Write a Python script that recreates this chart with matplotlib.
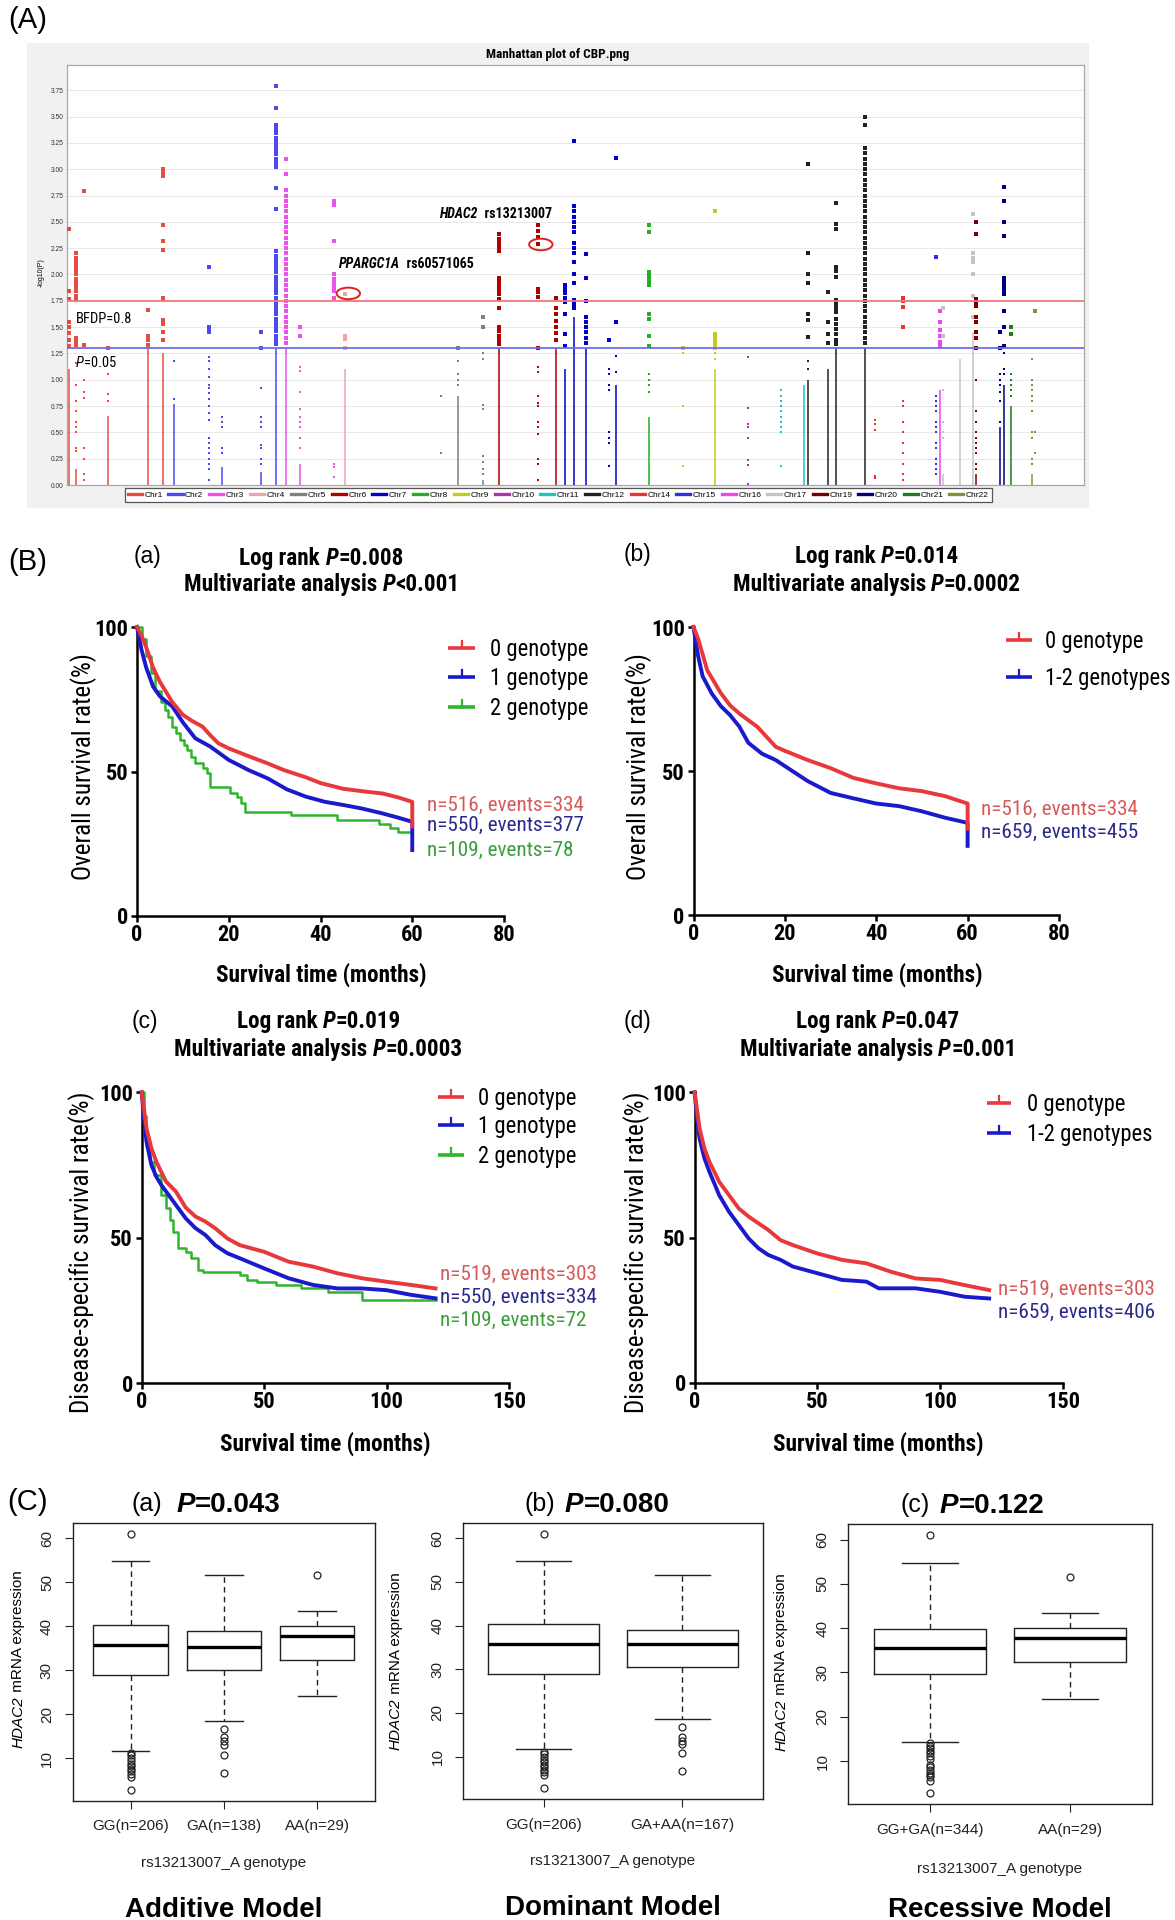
import numpy as np
import matplotlib
matplotlib.use('Agg')
import matplotlib.pyplot as plt
from matplotlib.lines import Line2D
from matplotlib.patches import Rectangle, Ellipse
import matplotlib.font_manager as fm

# ---------------- fonts ----------------
_names = {f.name for f in fm.fontManager.ttflist}
if 'Liberation Sans Narrow' in _names:
    NARROW = {'family': 'Liberation Sans Narrow'}; NS = 1.0
elif 'Roboto Condensed' in _names:
    NARROW = {'family': 'Roboto Condensed'}; NS = 0.95
elif any(f.name == 'DejaVu Sans' and 'condensed' in str(f.stretch) for f in fm.fontManager.ttflist):
    NARROW = {'family': 'DejaVu Sans', 'fontstretch': 'condensed'}; NS = 0.86
else:
    NARROW = {'family': 'Liberation Sans'}; NS = 0.84
SANS = {'family': 'Liberation Sans'}

# ================= DATA =================
# ---- (A) Manhattan plot ----
CHR_NAMES = ['Chr1', 'Chr2', 'Chr3', 'Chr4', 'Chr5', 'Chr6', 'Chr7', 'Chr8', 'Chr9', 'Chr10',
             'Chr11', 'Chr12', 'Chr14', 'Chr15', 'Chr16', 'Chr17', 'Chr19', 'Chr20', 'Chr21', 'Chr22']
CHR_COLORS = ['#e84a44', '#4a4aee', '#ee50ee', '#f2a3a8', '#808080', '#b00000', '#0000c8', '#22b022',
              '#c8c820', '#b030b0', '#22c2c2', '#222222', '#ee3030', '#3030e0', '#ee44ee', '#c4c4c4',
              '#7a0000', '#000080', '#1e7e1e', '#8e8e30']

col_pos = [2, 8.6, 16.9, 40.6, 79.8, 94.8,
           105.3, 140, 152.8, 190.8, 205.8,
           215.6, 228.8, 262.6,
           273.2,
           368, 384.2, 409,
           424.5, 463.6, 480.5,
           489.6, 498.6, 510.6, 533, 539.6,
           572,
           605.4, 636.8,
           669.3,
           702.3, 725,
           729, 748, 756.4, 784.2,
           794.3, 821.7,
           854.3,
           858.2,
           861, 877.8, 890.4,
           893.5,
           917, 921.7,
           928.7,
           948.4, 952.2]
col_chr = ['Chr1', 'Chr1', 'Chr1', 'Chr1', 'Chr1', 'Chr1',
           'Chr2', 'Chr2', 'Chr2', 'Chr2', 'Chr2',
           'Chr3', 'Chr3', 'Chr3',
           'Chr4',
           'Chr5', 'Chr5', 'Chr5',
           'Chr6', 'Chr6', 'Chr6',
           'Chr7', 'Chr7', 'Chr7', 'Chr7', 'Chr7',
           'Chr8',
           'Chr9', 'Chr9',
           'Chr10',
           'Chr11', 'Chr11',
           'Chr12', 'Chr12', 'Chr12', 'Chr12',
           'Chr14', 'Chr14',
           'Chr15',
           'Chr16',
           'Chr17', 'Chr17', 'Chr17',
           'Chr19',
           'Chr20', 'Chr20',
           'Chr21',
           'Chr22', 'Chr22']
col_dense = [1.1, 0.15, 0, 0.66, 1.3, 1.25,
             0.77, 0, 0.17, 0.12, 1.3,
             1.3, 0.2, 0,
             1.1,
             0, 0.85, 0.05,
             1.3, 0, 1.3,
             1.1, 1.6, 1.3, 0, 0.95,
             0.65,
             0, 1.1,
             0,
             0, 0.95,
             1.0, 1.1, 1.3, 1.3,
             0, 0,
             0,
             0.9,
             0.1, 1.2, 1.45,
             0.1,
             0.55, 0.95,
             0.75,
             0.1, 0]
col_pts = [
    [2.43, 1.84, 1.77, 1.55, 1.5, 1.44, 1.38, 1.32],
    [2.2, 2.16, 2.12, 2.08, 2.04, 2.0, 1.96, 1.92, 1.88, 1.84, 1.8, 1.76, 1.4, 1.37, 1.33,
     1.16, 0.95, 0.8, 0.7, 0.6, 0.55, 0.5, 0.35, 0.32],
    [2.79, 1.33, 1.0, 0.88, 0.83, 0.35, 0.25, 0.1, 0.05],
    [1.3, 1.05, 0.86, 0.8],
    [1.66, 1.42, 1.38, 1.33],
    [3.0, 2.97, 2.94, 2.47, 2.32, 2.23, 1.78, 1.76, 1.57, 1.53, 1.45, 1.38],
    [1.18, 0.82],
    [2.07, 1.5, 1.48, 1.45, 1.22, 1.18, 1.1, 1.03, 0.95, 0.92, 0.87, 0.82, 0.75, 0.68, 0.62,
     0.45, 0.4, 0.35, 0.3, 0.25, 0.2, 0.15, 0.05],
    [0.65, 0.6, 0.55, 0.35, 0.3],
    [1.45, 1.3, 0.92, 0.65, 0.6, 0.55, 0.38, 0.35, 0.25, 0.2],
    [3.79, 3.58, 3.42, 3.38, 3.34, 3.3, 3.26, 3.22, 3.18, 3.14, 3.1, 3.06, 3.02, 2.82, 2.62,
     2.22, 2.18, 2.14, 2.1, 2.06, 2.02, 1.98, 1.94, 1.9, 1.86, 1.82, 1.78, 1.74, 1.7, 1.66,
     1.62, 1.58, 1.54, 1.5, 1.46, 1.42, 1.38, 1.34],
    [3.1, 2.95, 2.8, 2.75, 2.7, 2.65, 2.6, 2.55, 2.5, 2.45, 2.4, 2.35, 2.3, 2.25, 2.2, 2.15,
     2.1, 2.05, 2.0, 1.95, 1.9, 1.85, 1.8, 1.75, 1.7, 1.65, 1.6, 1.55, 1.5, 1.45, 1.4, 1.35],
    [1.5, 1.42, 1.12, 1.08, 0.88, 0.72, 0.65, 0.6, 0.55, 0.45, 0.35],
    [2.7, 2.66, 2.32, 2.0, 1.96, 1.92, 1.88, 1.84, 1.78, 0.2, 0.17, 0.08],
    [1.81, 1.42, 1.39, 1.3],
    [0.85, 0.3],
    [1.3, 1.18, 1.05, 1.0, 0.95],
    [1.6, 1.5, 1.25, 1.2, 0.76, 0.72, 0.28, 0.22, 0.15, 0.1],
    [2.38, 2.34, 2.3, 2.26, 2.22, 1.97, 1.93, 1.89, 1.85, 1.81, 1.77, 1.68, 1.5, 1.46, 1.42,
     1.38, 1.34],
    [2.47, 2.41, 2.36, 2.29, 1.86, 1.83, 1.79, 1.3, 1.12, 1.07, 0.85, 0.78, 0.75, 0.6, 0.55,
     0.48, 0.25, 0.2, 0.05],
    [1.78, 1.68, 1.62, 1.56, 1.5, 1.44, 1.38],
    [1.9, 1.86, 1.82, 1.78, 1.74, 1.62, 1.43, 1.32],
    [3.27, 2.65, 2.6, 2.55, 2.5, 2.45, 2.4, 2.3, 2.25, 2.2, 2.12, 2.0, 1.92, 1.76, 1.72, 1.68],
    [2.19, 1.97, 1.75, 1.6, 1.55, 1.5, 1.45, 1.4, 1.35],
    [1.38, 1.1, 1.05, 0.95, 0.9, 0.5, 0.45, 0.4, 0.18],
    [3.11, 1.55, 1.23, 1.07],
    [2.47, 2.4, 2.02, 1.99, 1.96, 1.93, 1.9, 1.62, 1.58, 1.42, 1.32, 1.05, 1.0, 0.95, 0.88],
    [1.3, 1.25, 0.75, 0.18],
    [2.6, 1.43, 1.4, 1.37, 1.33, 1.3, 1.25, 1.2],
    [1.22, 0.73, 0.58, 0.55, 0.45, 0.24, 0.19, 0.01],
    [0.9, 0.85, 0.8, 0.75, 0.7, 0.65, 0.6, 0.55, 0.5, 0.18],
    [],
    [3.05, 2.2, 2.0, 1.92, 1.62, 1.57, 1.41, 1.18, 1.1],
    [1.83, 1.55, 1.43, 1.35],
    [2.68, 2.48, 2.43, 2.07, 2.03, 1.98, 1.76, 1.72, 1.68, 1.64, 1.58, 1.53, 1.48, 1.43, 1.38, 1.34],
    [3.5, 3.42, 3.2, 3.15, 3.1, 3.05, 3.0, 2.95, 2.9, 2.85, 2.8, 2.75, 2.7, 2.65, 2.6, 2.55,
     2.5, 2.45, 2.4, 2.35, 2.3, 2.25, 2.2, 2.15, 2.1, 2.05, 2.0, 1.95, 1.9, 1.85, 1.8, 1.75,
     1.7, 1.65, 1.6, 1.55, 1.5, 1.45, 1.4, 1.35],
    [0.62, 0.58, 0.52, 0.09, 0.07],
    [1.78, 1.75, 1.69, 1.5, 0.8, 0.75, 0.6, 0.5, 0.4, 0.3, 0.2, 0.1, 0.05],
    [2.17, 0.85, 0.8, 0.75, 0.7, 0.6, 0.55, 0.5, 0.4, 0.35, 0.25, 0.2, 0.15, 0.1],
    [1.65, 1.55, 1.47, 1.42, 1.36, 1.32],
    [1.68, 1.42, 0.9, 0.6, 0.5, 0.45],
    [],
    [2.57, 2.2, 2.16, 2.12, 2.0, 1.8, 1.6],
    [2.5, 2.38, 1.77, 1.74, 1.7, 1.6, 1.55, 1.45, 1.4, 1.3, 1.0, 0.7, 0.6, 0.5, 0.45, 0.4,
     0.35, 0.3, 0.2, 0.15],
    [1.45, 1.3, 1.05, 1.0, 0.95, 0.88, 0.8, 0.6],
    [2.83, 2.7, 2.5, 2.37, 1.97, 1.93, 1.89, 1.85, 1.81, 1.65, 1.5, 1.32, 1.25, 1.1, 1.05],
    [1.5, 1.43, 1.05, 1.0, 0.95, 0.9, 0.85],
    [1.2, 1.0, 0.95, 0.9, 0.85, 0.8, 0.7, 0.5, 0.45, 0.25, 0.2],
    [1.65, 0.5, 0.3],
]
BFDP_LINE = 1.75
P_LINE = 1.30
HIGHLIGHT_POS = [465.9, 276.6]
HIGHLIGHT_VAL = [2.285, 1.82]

# ---- (B) Kaplan-Meier curves ----
a_red_t = [0, 1, 2, 3.5, 5, 7.7, 10, 12, 14.3, 16, 17.7, 20, 24, 28.5, 32, 36.8, 40, 45, 50, 53.5, 57, 60, 60]
a_red_s = [100, 97, 93, 86, 81, 74, 69.6, 67.5, 65.5, 62.5, 59.8, 58, 55.5, 52.8, 50.5, 48, 46, 44, 43, 42.4, 41, 39.5, 31]
a_blue_t = [0, 1, 2, 3.5, 5, 7.7, 10, 12.7, 16, 20, 24.3, 28.5, 32.7, 36.8, 41, 45, 49, 53.5, 57, 60, 60]
a_blue_s = [100, 92, 86, 79.4, 76, 72.5, 67, 61.5, 58.6, 54, 50.5, 47.6, 43.8, 41.3, 39.5, 38.4, 37.2, 35.5, 34, 32.6, 22.8]
a_green_t = [0, 1, 2, 3, 4, 5.2, 6, 6.8, 7.7, 8.5, 9.3, 10.2, 11, 11.8, 12.7, 14.3, 15.2, 16, 20.2,
             21.8, 22.7, 23.5, 33.5, 43.5, 52.7, 55.2, 56.8, 60]
a_green_s = [100, 96, 90, 84, 78, 74.2, 71.3, 69, 65.5, 63.2, 61, 59.2, 57.5, 55.1, 52.8, 51.1, 49.4,
             44.7, 42.4, 41.3, 39, 36, 34.9, 33.2, 32, 30.3, 29.1, 28.5]

b_red_t = [0, 1, 3, 6, 8, 10, 14, 18, 20, 25, 30, 35, 40, 45, 50, 55, 60, 60]
b_red_s = [100, 96, 85, 77, 72.8, 70, 65.3, 58.4, 57, 53.8, 51, 47.6, 45.7, 44, 43, 41.3, 38.7, 30]
b_blue_t = [0, 1, 2, 4, 6, 8, 10, 12, 15, 18, 20, 25, 30, 35, 40, 45, 50, 55, 60, 60]
b_blue_s = [100, 90, 82.9, 76.9, 72.5, 69.4, 65.5, 59.8, 56, 53.8, 51.7, 46.5, 42.4, 40.5, 38.7, 37.8, 36, 33.8, 32, 24]

c_red_t = [0, 1, 2, 4, 6, 8, 10, 14, 18, 22, 26, 30, 35, 40, 50, 60, 70, 80, 90, 100, 110, 120]
c_red_s = [100, 94, 87.6, 80.8, 76.2, 72.7, 69.3, 65.9, 60.4, 57.3, 55.6, 53.3, 49.8, 47.5, 45.2, 41.8,
           40.1, 37.8, 36.1, 34.9, 33.8, 32.6]
c_blue_t = [0, 1, 2, 4, 6, 8, 10, 14, 18, 22, 26, 30, 35, 40, 50, 60, 70, 80, 90, 100, 110, 120]
c_blue_s = [100, 91, 83, 75, 71, 68.2, 65.9, 61.3, 56.7, 53.3, 51, 47.5, 44.7, 43, 39.5, 36.1, 33.8,
            32.6, 32.6, 32, 30.4, 29.2]
c_green_t = [0, 1, 2, 3.5, 5, 8, 10, 11.5, 13, 15, 18, 20, 23, 25, 40, 43, 47, 55, 65, 76, 90, 120]
c_green_s = [100, 92, 82, 76, 71.6, 64.7, 60.1, 56, 52.1, 46.4, 45.2, 43, 38.9, 38.4, 37.2, 35.5, 34.9,
             33.8, 32.6, 31.5, 28.6, 28.6]

d_red_t = [0, 1, 2, 4, 6, 8, 10, 14, 18, 22, 26, 30, 35, 40, 50, 60, 70, 80, 90, 100, 110, 120]
d_red_s = [100, 94, 87.6, 80.7, 76.1, 72.7, 69.2, 64.6, 60, 57.2, 54.9, 52.6, 49.1, 47.4, 44.5, 42.3,
           41.1, 38.2, 35.9, 35.4, 33.6, 31.9]
d_blue_t = [0, 1, 2, 4, 6, 8, 10, 14, 18, 22, 26, 30, 35, 40, 50, 60, 70, 75, 90, 100, 110, 120]
d_blue_s = [100, 91, 84.2, 77.3, 72.7, 68.7, 64.6, 58.9, 54.3, 49.7, 46.3, 44, 42.3, 40, 37.7, 35.4,
            34.8, 32.5, 32.5, 31.3, 29.6, 29]

LEG_3 = ['0 genotype', '1 genotype', '2 genotype']
LEG_2 = ['0 genotype', '1-2 genotypes']
ANN_A = ['n=516, events=334', 'n=550, events=377', 'n=109, events=78']
ANN_B = ['n=516, events=334', 'n=659, events=455']
ANN_C = ['n=519, events=303', 'n=550, events=334', 'n=109, events=72']
ANN_D = ['n=519, events=303', 'n=659, events=406']
P_LOGRANK = ['0.008', '0.014', '0.019', '0.047']
P_MULTI = ['<0.001', '=0.0002', '=0.0003', '=0.001']

# ---- (C) HDAC2 expression boxplots ----
BOX_A_LABELS = ['GG(n=206)', 'GA(n=138)', 'AA(n=29)']
BOX_A_Q1 = [28.9, 30.1, 32.4]
BOX_A_MED = [35.7, 35.3, 37.7]
BOX_A_Q3 = [40.3, 38.9, 40.0]
BOX_A_LO = [11.7, 18.5, 24.0]
BOX_A_HI = [54.7, 51.6, 43.5]
BOX_A_FLIERS = [[61.0, 11.1, 10.6, 10.0, 9.3, 8.7, 8.2, 7.6, 7.0, 6.4, 5.8, 2.8],
                [16.7, 14.8, 13.9, 12.9, 10.8, 6.6],
                [51.6]]
BOX_B_LABELS = ['GG(n=206)', 'GA+AA(n=167)']
BOX_B_Q1 = [28.9, 30.5]
BOX_B_MED = [35.7, 35.7]
BOX_B_Q3 = [40.3, 39.1]
BOX_B_LO = [11.7, 18.6]
BOX_B_HI = [54.7, 51.6]
BOX_B_FLIERS = [[61.0, 11.1, 10.6, 10.0, 9.3, 8.7, 8.2, 7.6, 7.0, 6.4, 5.8, 2.8],
                [16.7, 14.4, 13.6, 12.8, 10.8, 6.6]]
BOX_C_LABELS = ['GG+GA(n=344)', 'AA(n=29)']
BOX_C_Q1 = [29.6, 32.4]
BOX_C_MED = [35.5, 37.7]
BOX_C_Q3 = [39.7, 40.0]
BOX_C_LO = [14.2, 24.0]
BOX_C_HI = [54.7, 43.5]
BOX_C_FLIERS = [[61.0, 14.0, 13.5, 12.9, 12.3, 11.8, 11.2, 10.5, 9.0, 8.6, 8.0, 7.2, 6.8, 6.4, 5.6, 2.8],
                [51.6]]
BOX_P = ['0.043', '0.080', '0.122']
BOX_MODELS = ['Additive Model', 'Dominant Model', 'Recessive Model']

# ================= FIGURE =================
W, H = 1175, 1920
fig = plt.figure(figsize=(W / 100, H / 100), dpi=100)
fig.patch.set_facecolor('white')


def fx(x):
    return x / W


def fy(y):
    return 1 - y / H


def add_ax(x0, y0, x1, y1):
    return fig.add_axes([fx(x0), fy(y1), (x1 - x0) / W, (y1 - y0) / H])


def fig_line(xs, ys, **kw):
    fig.add_artist(Line2D([fx(v) for v in xs], [fy(v) for v in ys], transform=fig.transFigure, **kw))


_R = fig.canvas.get_renderer()


def _adv(s, fs, kw):
    t1 = fig.text(0, 0, '|' + s + '|', fontsize=fs, **kw)
    t2 = fig.text(0, 0, '||', fontsize=fs, **kw)
    w = t1.get_window_extent(_R).width - t2.get_window_extent(_R).width
    t1.remove(); t2.remove()
    return w


def rich(x, y, pieces, fs, ha='center', rot=0):
    widths = [_adv(s, fs, kw) for s, kw in pieces]
    total = sum(widths)
    off = 0.36 * fs / 0.72
    if rot == 0:
        cur = x - total / 2 if ha == 'center' else (x if ha == 'left' else x - total)
        for (s, kw), w in zip(pieces, widths):
            fig.text(fx(cur), fy(y + off), s, fontsize=fs, ha='left', va='baseline', **kw)
            cur += w
    else:
        cur = y + total / 2
        for (s, kw), w in zip(pieces, widths):
            fig.text(fx(x + off), fy(cur), s, fontsize=fs, ha='left', va='baseline',
                     rotation=90, rotation_mode='anchor', **kw)
            cur -= w


def T(x, y, s, fs, ha='center', rot=0, **kw):
    rich(x, y, [(s, kw)], fs, ha=ha, rot=rot)


# ---------------- Panel A ----------------
fig.add_artist(Rectangle((fx(27), fy(508)), (1089 - 27) / W, (508 - 43) / H, transform=fig.transFigure,
                         facecolor='#f1f1f1', edgecolor='none', zorder=-5))
axm = add_ax(67, 65, 1084, 485)
axm.set_xlim(0, 1000)
axm.set_ylim(0, 3.99)
axm.set_facecolor('white')
yt = np.arange(0, 3.76, 0.25)
axm.set_yticks(yt)
axm.set_yticklabels(['%.2f' % v for v in yt], fontsize=4.8, **SANS)
axm.set_xticks([])
axm.tick_params(axis='y', length=0, pad=2.5, labelcolor='#333333')
axm.yaxis.grid(True, color='#e4e4e4', lw=0.6)
axm.set_axisbelow(True)
for sp in axm.spines.values():
    sp.set_color('#a8a8a8'); sp.set_linewidth(0.9)

for p, c, d, pts in zip(col_pos, col_chr, col_dense, col_pts):
    color = CHR_COLORS[CHR_NAMES.index(c)]
    if d > 0:
        axm.vlines(p, 0, d, color=color, lw=1.1, zorder=2)
    v = np.array(pts, dtype=float)
    big = v[v >= 1.3]
    small = v[v < 1.3]
    if big.size:
        axm.scatter(np.full(big.size, p), big, marker='s', s=10, color=color, lw=0, zorder=3)
    if small.size:
        axm.scatter(np.full(small.size, p), small, marker='s', s=2.5, color=color, lw=0, zorder=3)

axm.axhline(BFDP_LINE, color='#f07a7a', lw=1.3, zorder=4)
axm.axhline(P_LINE, color='#6e6ee8', lw=1.3, zorder=4)
for hp, hv in zip(HIGHLIGHT_POS, HIGHLIGHT_VAL):
    axm.add_patch(Ellipse((hp, hv), 23, 0.11, fill=False, ec='#dd2020', lw=1.4, zorder=5))

handles = [Line2D([], [], color=c, lw=2.4) for c in CHR_COLORS]
leg = axm.legend(handles, CHR_NAMES, ncol=20, loc='upper center', bbox_to_anchor=(0.483, -0.008),
                 prop={'family': 'Liberation Sans', 'size': 6}, handlelength=1.7, handletextpad=0.3,
                 columnspacing=0.7, borderpad=0.35, borderaxespad=0, frameon=True, fancybox=False,
                 edgecolor='#555555', framealpha=1)
leg.get_frame().set_linewidth(0.9)

T(558, 53, 'Manhattan plot of CBP.png', 10 * NS, weight='bold', **NARROW)
T(40, 273, '-log10(P)', 5, rot=90, **SANS)
T(76, 318, 'BFDP=0.8', 11 * NS, ha='left', **NARROW)
rich(76, 362, [('P', dict(style='italic', **NARROW)), ('=0.05', dict(**NARROW))], 11 * NS, ha='left')
rich(440, 213, [('HDAC2', dict(style='italic', weight='bold', **NARROW)),
                ('  rs13213007', dict(weight='bold', **NARROW))], 10.5 * NS, ha='left')
rich(339, 263, [('PPARGC1A', dict(style='italic', weight='bold', **NARROW)),
                ('  rs60571065', dict(weight='bold', **NARROW))], 10.5 * NS, ha='left')
T(8, 18, '(A)', 21, ha='left', **SANS)

# ---------------- Panel B ----------------
RED, BLUE, GREEN = '#e8383c', '#1a1acc', '#2db52d'
TRED, TBLUE, TGREEN = '#d65a5a', '#2a2a8c', '#3a9e3a'


def surv_panel(box, xmax, xticks, curves):
    x0, y0, x1, y1 = box
    ax = add_ax(x0, y0, x1, y1)
    ax.patch.set_alpha(0)
    ax.set_xlim(0, xmax)
    ax.set_ylim(0, 100)
    for s in ['top', 'right']:
        ax.spines[s].set_visible(False)
    for s in ['left', 'bottom']:
        ax.spines[s].set_linewidth(1.8)
    ax.set_xticks(xticks)
    ax.set_yticks([0, 50, 100])
    ax.set_xticklabels([str(v) for v in xticks], fontsize=17 * NS, fontweight='bold', **NARROW)
    ax.set_yticklabels(['0', '50', '100'], fontsize=17 * NS, fontweight='bold', **NARROW)
    ax.tick_params(axis='both', direction='out', length=4.3, width=1.8)
    ax.tick_params(axis='x', pad=1.5)
    ax.tick_params(axis='y', pad=2)
    for t, s, color, step in curves:
        if step:
            ax.plot(t, s, color=color, lw=1.8, drawstyle='steps-post', clip_on=False, zorder=3)
        else:
            ax.plot(t, s, color=color, lw=2.8, clip_on=False, zorder=4, solid_joinstyle='round')
    return ax


def surv_legend(x0, x1, xt, ys, labels, colors):
    for y, lab, c in zip(ys, labels, colors):
        fig_line([x0, x1], [y, y], color=c, lw=2.6, solid_capstyle='butt')
        xm = (x0 + x1) / 2
        fig_line([xm, xm], [y, y - 7], color=c, lw=1.6)
        T(xt, y, lab, 17.2 * NS, ha='left', **NARROW)


def surv_titles(lab_x, lab_y, cx, y1, y2, lab, p1, p2):
    T(lab_x, lab_y, lab, 16.5, ha='left', **SANS)
    bn = dict(weight='bold', **NARROW)
    bi = dict(weight='bold', style='italic', **NARROW)
    rich(cx, y1, [('Log rank ', bn), ('P', bi), ('=' + p1, bn)], 17.5 * NS)
    rich(cx, y2, [('Multivariate analysis ', bn), ('P', bi), (p2, bn)], 17.5 * NS)


# (a)
surv_panel((137, 627, 504, 916), 80, [0, 20, 40, 60, 80],
           [(a_green_t, a_green_s, GREEN, True), (a_blue_t, a_blue_s, BLUE, False),
            (a_red_t, a_red_s, RED, False)])
surv_legend(448, 475, 490, [648, 677, 707], LEG_3, [RED, BLUE, GREEN])
for y, s, c in zip([803, 823, 848], ANN_A, [TRED, TBLUE, TGREEN]):
    T(427, y, s, 16 * NS, ha='left', color=c, **NARROW)
surv_titles(134, 555, 321.5, 557, 583, '(a)', P_LOGRANK[0], P_MULTI[0])
T(321.5, 973, 'Survival time (months)', 17.5 * NS, weight='bold', **NARROW)
T(82, 767, 'Overall survival rate(%)', 19 * NS, rot=90, **NARROW)

# (b)
surv_panel((693.5, 627, 1059, 915), 80, [0, 20, 40, 60, 80],
           [(b_blue_t, b_blue_s, BLUE, False), (b_red_t, b_red_s, RED, False)])
surv_legend(1006, 1032, 1045, [640, 677], LEG_2, [RED, BLUE])
for y, s, c in zip([807, 830], ANN_B, [TRED, TBLUE]):
    T(981, y, s, 16 * NS, ha='left', color=c, **NARROW)
surv_titles(624, 553, 876.7, 555, 583, '(b)', P_LOGRANK[1], P_MULTI[1])
T(877, 973, 'Survival time (months)', 17.5 * NS, weight='bold', **NARROW)
T(636.7, 767, 'Overall survival rate(%)', 19 * NS, rot=90, **NARROW)

# (c)
surv_panel((141.6, 1092.3, 509, 1383.3), 150, [0, 50, 100, 150],
           [(c_green_t, c_green_s, GREEN, True), (c_blue_t, c_blue_s, BLUE, False),
            (c_red_t, c_red_s, RED, False)])
surv_legend(438, 464, 478, [1097, 1125, 1155], LEG_3, [RED, BLUE, GREEN])
for y, s, c in zip([1272, 1295, 1318], ANN_C, [TRED, TBLUE, TGREEN]):
    T(440, y, s, 16 * NS, ha='left', color=c, **NARROW)
surv_titles(132, 1020, 318.6, 1020, 1048, '(c)', P_LOGRANK[2], P_MULTI[2])
T(325, 1442, 'Survival time (months)', 17.5 * NS, weight='bold', **NARROW)
T(80, 1252, 'Disease-specific survival rate(%)', 19 * NS, rot=90, **NARROW)

# (d)
surv_panel((694.6, 1092.3, 1062.8, 1382.7), 150, [0, 50, 100, 150],
           [(d_blue_t, d_blue_s, BLUE, False), (d_red_t, d_red_s, RED, False)])
surv_legend(987, 1011, 1027, [1103, 1133], LEG_2, [RED, BLUE])
for y, s, c in zip([1287, 1310], ANN_D, [TRED, TBLUE]):
    T(998, y, s, 16 * NS, ha='left', color=c, **NARROW)
surv_titles(624, 1020, 878, 1020, 1048, '(d)', P_LOGRANK[3], P_MULTI[3])
T(878.7, 1442, 'Survival time (months)', 17.5 * NS, weight='bold', **NARROW)
T(635, 1252, 'Disease-specific survival rate(%)', 19 * NS, rot=90, **NARROW)

T(8, 560, '(B)', 21, ha='left', **SANS)


# ---------------- Panel C ----------------
def box_panel(box, labels, q1, med, q3, lo, hi, fliers):
    x0, y0, x1, y1 = box
    ax = add_ax(x0, y0, x1, y1)
    n = len(labels)
    stats = [dict(q1=a, med=b, q3=c, whislo=d, whishi=e, fliers=f)
             for a, b, c, d, e, f in zip(q1, med, q3, lo, hi, fliers)]
    ax.bxp(stats, positions=list(range(1, n + 1)), widths=0.8, capwidths=0.4, showfliers=True,
           boxprops=dict(color='#222222', lw=1.0),
           medianprops=dict(color='black', lw=2.4, solid_capstyle='butt'),
           whiskerprops=dict(color='#222222', lw=1.0, linestyle=(0, (4, 3))),
           capprops=dict(color='#222222', lw=1.0),
           flierprops=dict(marker='o', markerfacecolor='none', markeredgecolor='#222222',
                           markersize=5, markeredgewidth=0.9))
    ax.set_xlim(0.5 - 0.04 * n, n + 0.5 + 0.04 * n)
    ax.set_ylim(0.3, 63.5)
    ax.set_yticks([10, 20, 30, 40, 50, 60])
    ax.set_yticklabels(['10', '20', '30', '40', '50', '60'], rotation=90, va='center', fontsize=11, **SANS)
    ax.set_xticks(list(range(1, n + 1)))
    ax.set_xticklabels(labels, fontsize=11, **SANS)
    ax.tick_params(direction='out', length=5.5, width=0.8, color='#222222', labelcolor='#222222')
    ax.tick_params(axis='y', pad=8)
    ax.tick_params(axis='x', pad=8)
    for sp in ax.spines.values():
        sp.set_linewidth(1.0); sp.set_color('#222222')
    return ax


box_panel((72.7, 1522.7, 375, 1800.7), BOX_A_LABELS, BOX_A_Q1, BOX_A_MED, BOX_A_Q3, BOX_A_LO, BOX_A_HI, BOX_A_FLIERS)
box_panel((463.3, 1523, 762.7, 1799), BOX_B_LABELS, BOX_B_Q1, BOX_B_MED, BOX_B_Q3, BOX_B_LO, BOX_B_HI, BOX_B_FLIERS)
box_panel((848.3, 1524, 1151.7, 1804), BOX_C_LABELS, BOX_C_Q1, BOX_C_MED, BOX_C_Q3, BOX_C_LO, BOX_C_HI, BOX_C_FLIERS)

for (lx, px, ty), lab, pv in zip([(131.7, 176.7, 1502), (525, 565, 1502), (900, 940, 1503)],
                                 ['(a)', '(b)', '(c)'], BOX_P):
    T(lx, ty, lab, 18, ha='left', **SANS)
    rich(px, ty, [('P', dict(weight='bold', style='italic', **SANS)),
                  ('=' + pv, dict(weight='bold', **SANS))], 20, ha='left')

for (yx, yy) in [(16.7, 1659), (394, 1661), (780, 1662)]:
    rich(yx, yy, [('HDAC2', dict(style='italic', **SANS)), (' mRNA expression', dict(**SANS))], 11, rot=90)

for (cx, xy, my), model in zip([(224, 1862, 1907), (613, 1860, 1905), (1000, 1867, 1907)], BOX_MODELS):
    T(cx, xy, 'rs13213007_A genotype', 11, color='#222222', **SANS)
    T(cx, my, model, 20, weight='bold', **SANS)

T(7, 1499, '(C)', 21, ha='left', **SANS)

fig.savefig('out.png', dpi=100, facecolor='white')
